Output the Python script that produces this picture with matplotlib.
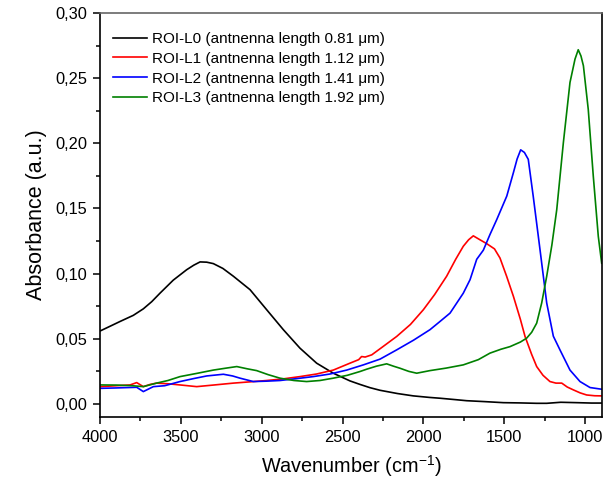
import matplotlib
matplotlib.use("Agg")
import matplotlib.pyplot as plt
from matplotlib.ticker import MultipleLocator, FuncFormatter

plt.rcParams['font.family'] = ['Liberation Sans', 'DejaVu Sans']
plt.rcParams['mathtext.fontset'] = 'custom'
plt.rcParams['mathtext.rm'] = 'Liberation Sans'
plt.rcParams['mathtext.it'] = 'Liberation Sans'

# ROI-L0 (black)
wn_l0 = [3996, 3940, 3876, 3794, 3732, 3680, 3629, 3547, 3464, 3420, 3381, 3340,
         3299, 3240, 3175, 3072, 2969, 2866, 2763, 2660, 2557, 2454, 2392, 2330,
         2268, 2160, 2062, 1960, 1897, 1800, 1732, 1620, 1505, 1400, 1300, 1237,
         1150, 1050, 960, 897]
ab_l0 = [0.0562, 0.0595, 0.0633, 0.068, 0.073, 0.0785, 0.085, 0.095, 0.103, 0.1065,
         0.109, 0.1088, 0.1077, 0.104, 0.098, 0.0877, 0.0723, 0.057, 0.0428, 0.0313,
         0.0236, 0.0177, 0.0150, 0.0125, 0.0105, 0.0080, 0.0062, 0.0050, 0.0044,
         0.0033, 0.0025, 0.0018, 0.0010, 0.0008, 0.0005, 0.0005, 0.0013, 0.0010,
         0.0007, 0.0007]

# ROI-L1 (red)
wn_l1 = [3996, 3900, 3814, 3773, 3732, 3690, 3650, 3580, 3505, 3402, 3300, 3175,
         3070, 2969, 2870, 2763, 2660, 2557, 2454, 2400, 2382, 2360, 2319, 2250,
         2165, 2080, 2000, 1930, 1856, 1800, 1753, 1720, 1691, 1650, 1608, 1560,
         1526, 1485, 1443, 1400, 1371, 1330, 1299, 1260, 1217, 1180, 1144, 1110,
         1072, 1030, 990, 940, 897]
ab_l1 = [0.0133, 0.014, 0.0146, 0.0164, 0.0133, 0.015, 0.016, 0.0155, 0.0146, 0.0133,
         0.0145, 0.016, 0.017, 0.018, 0.0192, 0.021, 0.023, 0.026, 0.0313, 0.034,
         0.0364, 0.036, 0.0377, 0.044, 0.0518, 0.061, 0.0723, 0.084, 0.098, 0.111,
         0.121, 0.126, 0.129, 0.126, 0.123, 0.119, 0.112, 0.098, 0.0826, 0.065,
         0.0518, 0.038, 0.0287, 0.022, 0.0172, 0.016, 0.016, 0.013, 0.0108, 0.0085,
         0.0069, 0.0063, 0.0062]

# ROI-L2 (blue)
wn_l2 = [3996, 3900, 3773, 3732, 3670, 3600, 3505, 3420, 3340, 3237, 3180, 3134,
         3052, 2970, 2887, 2780, 2681, 2577, 2474, 2371, 2268, 2165, 2060, 1959,
         1900, 1835, 1753, 1711, 1670, 1629, 1588, 1546, 1484, 1443, 1420, 1398,
         1375, 1351, 1320, 1278, 1237, 1196, 1155, 1093, 1031, 969, 897]
ab_l2 = [0.012, 0.0123, 0.0128, 0.0095, 0.0133, 0.0140, 0.0172, 0.0195, 0.0215,
         0.0228, 0.0215, 0.0198, 0.0172, 0.0175, 0.018, 0.0195, 0.021, 0.023, 0.026,
         0.030, 0.0344, 0.0415, 0.049, 0.057, 0.063, 0.0697, 0.085, 0.0954, 0.111,
         0.118, 0.130, 0.1415, 0.1595, 0.1775, 0.188, 0.195, 0.193, 0.1877, 0.159,
         0.118, 0.0775, 0.052, 0.0415, 0.026, 0.0172, 0.0126, 0.0113]

# ROI-L3 (green)
wn_l3 = [3996, 3900, 3800, 3732, 3650, 3580, 3505, 3400, 3299, 3220, 3154, 3090,
         3031, 2960, 2887, 2800, 2722, 2640, 2557, 2470, 2392, 2350, 2290, 2227,
         2185, 2144, 2090, 2041, 1959, 1860, 1753, 1660, 1588, 1520, 1464, 1400,
         1361, 1330, 1299, 1268, 1237, 1205, 1175, 1134, 1093, 1062, 1042, 1025,
         1010, 980, 949, 918, 897]
ab_l3 = [0.0146, 0.0145, 0.014, 0.0133, 0.016, 0.018, 0.021, 0.0235, 0.026, 0.0275,
         0.0287, 0.027, 0.0256, 0.0225, 0.0198, 0.018, 0.0172, 0.018, 0.0198, 0.022,
         0.0249, 0.0267, 0.029, 0.0308, 0.029, 0.0274, 0.025, 0.0236, 0.0256,
         0.0275, 0.030, 0.034, 0.039, 0.042, 0.044, 0.0475, 0.0505, 0.055, 0.062,
         0.0775, 0.098, 0.122, 0.149, 0.2005, 0.2467, 0.2646, 0.2718, 0.267, 0.2595,
         0.226, 0.175, 0.1287, 0.108]

labels = ["ROI-L0 (antnenna length 0.81 μm)",
          "ROI-L1 (antnenna length 1.12 μm)",
          "ROI-L2 (antnenna length 1.41 μm)",
          "ROI-L3 (antnenna length 1.92 μm)"]
colors = ["black", "red", "blue", "green"]

fig = plt.figure(figsize=(6.03, 4.86), dpi=100)
ax = fig.add_axes([100/603, 1-417/486, 502/603, 404/486])

for wn, ab, lab, col in zip([wn_l0, wn_l1, wn_l2, wn_l3],
                            [ab_l0, ab_l1, ab_l2, ab_l3], labels, colors):
    ax.plot(wn, ab, color=col, lw=1.2, label=lab)

ax.set_xlim(4000, 895)
ax.set_ylim(-0.01, 0.30)
ax.xaxis.set_major_locator(MultipleLocator(500))
ax.xaxis.set_minor_locator(MultipleLocator(250))
ax.yaxis.set_major_locator(MultipleLocator(0.05))
ax.yaxis.set_minor_locator(MultipleLocator(0.025))
ax.yaxis.set_major_formatter(FuncFormatter(lambda v, p: f"{v:.2f}".replace(".", ",")))
ax.xaxis.set_major_formatter(FuncFormatter(lambda v, p: f"{v:.0f}"))
ax.tick_params(which='both', direction='out', labelsize=11.8, width=1.1)
ax.tick_params(which='major', length=5, pad=4)
ax.tick_params(which='minor', length=3)
for s in ['left', 'bottom', 'right']:
    ax.spines[s].set_linewidth(1.2)
ax.spines['top'].set_color('#666666')
ax.spines['top'].set_linewidth(1.2)

ax.set_xlabel("Wavenumber (cm$^{\\mathregular{-1}}$)", fontsize=14.3, labelpad=6)
ax.set_ylabel("Absorbance (a.u.)", fontsize=15.5, labelpad=6)

ax.legend(loc='upper left', frameon=False, fontsize=11, handlelength=2.2,
          handletextpad=0.35, labelspacing=0.38, borderpad=0, borderaxespad=0,
          bbox_to_anchor=(0.026, 0.953))

fig.savefig("out.png", dpi=100)
